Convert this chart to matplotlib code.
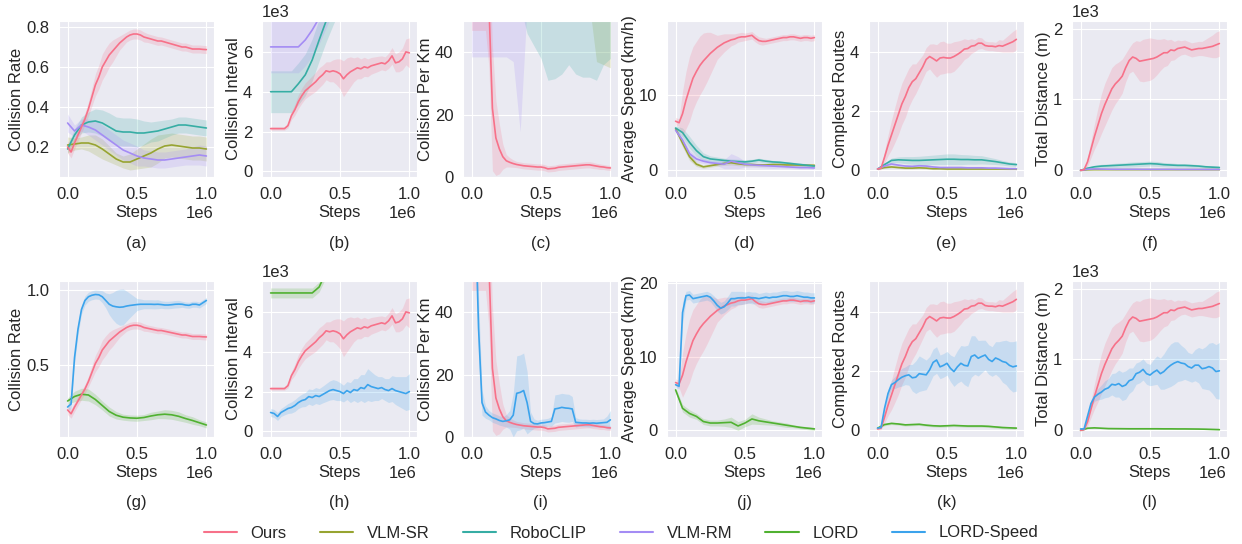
import numpy as np
import matplotlib
matplotlib.use("Agg")
import matplotlib.pyplot as plt
import seaborn as sns

sns.set_style("darkgrid")
plt.rcParams["font.family"] = ["Liberation Sans", "DejaVu Sans"]
plt.rcParams["font.size"] = 12

# evaluation steps: fine grid for noisy curves, coarse grid for smooth ones
STEPS = np.arange(0, 1_000_001, 25_000)
STEPS_C = np.arange(0, 1_000_001, 50_000)

LABELS = ["Ours", "VLM-SR", "RoboCLIP", "VLM-RM", "LORD", "LORD-Speed"]
COLORS = {"Ours": "#f77189", "VLM-SR": "#97a431", "RoboCLIP": "#36ada4",
          "VLM-RM": "#a48cf4", "LORD": "#50b131", "LORD-Speed": "#3ba3ec"}

# ── Collision Rate ─────────────────────────────────────────────────────────
RATE_OURS = [0.20, 0.175, 0.22, 0.26, 0.30, 0.34, 0.39, 0.45, 0.51, 0.55, 0.60,
             0.63, 0.66, 0.68, 0.70, 0.72, 0.735, 0.75, 0.76, 0.765, 0.765,
             0.76, 0.75, 0.745, 0.74, 0.735, 0.73, 0.73, 0.725, 0.72, 0.715,
             0.71, 0.705, 0.70, 0.70, 0.695, 0.69, 0.69, 0.69, 0.688, 0.687]
RATE_OURS_SD = [0.03, 0.03, 0.03, 0.03, 0.03, 0.03, 0.035, 0.045, 0.055, 0.06,
                0.065, 0.065, 0.06, 0.055, 0.045, 0.035, 0.03, 0.025, 0.025,
                0.025, 0.025, 0.025, 0.025, 0.022, 0.022, 0.022, 0.022, 0.02,
                0.02, 0.02, 0.02, 0.02, 0.02, 0.02, 0.02, 0.02, 0.02, 0.02,
                0.02, 0.02, 0.02]
RATE_SR = [0.21, 0.215, 0.22, 0.22, 0.21, 0.19, 0.165, 0.14, 0.125, 0.125,
           0.14, 0.155, 0.17, 0.19, 0.205, 0.21, 0.205, 0.20, 0.195, 0.195, 0.19]
RATE_SR_SD = [0.04, 0.03, 0.03, 0.04, 0.05, 0.05, 0.04, 0.03, 0.03, 0.04, 0.05,
              0.06, 0.07, 0.07, 0.06, 0.06, 0.06, 0.06, 0.06, 0.06, 0.06]
RATE_CLIP = [0.19, 0.26, 0.31, 0.325, 0.33, 0.32, 0.30, 0.28, 0.275, 0.275,
             0.27, 0.27, 0.275, 0.28, 0.29, 0.30, 0.31, 0.31, 0.305, 0.30, 0.295]
RATE_CLIP_SD = [0.02, 0.03, 0.04, 0.05, 0.06, 0.065, 0.07, 0.07, 0.07, 0.07,
                0.07, 0.06, 0.05, 0.05, 0.045, 0.04, 0.04, 0.04, 0.04, 0.04, 0.04]
RATE_RM = [0.32, 0.28, 0.31, 0.30, 0.285, 0.26, 0.235, 0.21, 0.185, 0.17, 0.155,
           0.145, 0.14, 0.135, 0.135, 0.14, 0.145, 0.15, 0.155, 0.16, 0.155]
RATE_RM_SD = [0.045, 0.03, 0.03, 0.04, 0.05, 0.05, 0.05, 0.05, 0.05, 0.05, 0.05,
              0.04, 0.04, 0.04, 0.04, 0.04, 0.04, 0.04, 0.045, 0.05, 0.05]
RATE_LORD = [0.26, 0.29, 0.305, 0.30, 0.27, 0.23, 0.19, 0.165, 0.152, 0.147,
             0.145, 0.15, 0.16, 0.168, 0.172, 0.168, 0.158, 0.143, 0.13, 0.115, 0.10]
RATE_LORD_SD = [0.02, 0.035, 0.04, 0.04, 0.035, 0.03, 0.03, 0.025, 0.02, 0.02,
                0.02, 0.02, 0.025, 0.025, 0.03, 0.03, 0.03, 0.025, 0.025, 0.02, 0.02]
RATE_SPEED = [0.22, 0.24, 0.55, 0.74, 0.87, 0.93, 0.955, 0.965, 0.97, 0.968,
              0.955, 0.93, 0.905, 0.893, 0.888, 0.885, 0.887, 0.893, 0.897, 0.90,
              0.903, 0.905, 0.905, 0.905, 0.905, 0.904, 0.905, 0.903, 0.90, 0.90,
              0.902, 0.905, 0.906, 0.905, 0.90, 0.898, 0.905, 0.905, 0.90, 0.915, 0.93]
RATE_SPEED_SD = [0.02, 0.03, 0.04, 0.04, 0.03, 0.03, 0.03, 0.03, 0.03, 0.03,
                 0.04, 0.05, 0.07, 0.09, 0.11, 0.12, 0.12, 0.10, 0.08, 0.06,
                 0.04, 0.035, 0.03, 0.03, 0.03, 0.03, 0.03, 0.025, 0.025, 0.025,
                 0.025, 0.025, 0.025, 0.02, 0.02, 0.02, 0.02, 0.02, 0.02, 0.02, 0.02]

# ── Collision Interval ─────────────────────────────────────────────────────
INT_OURS = [2150, 2150, 2150, 2150, 2150, 2300, 2800, 3100, 3500, 3800, 4050,
            4200, 4350, 4500, 4700, 4850, 5050, 5000, 5050, 5000, 4900, 4650,
            4850, 5000, 5100, 5200, 5150, 5250, 5200, 5300, 5350, 5400, 5450,
            5400, 5550, 5800, 5450, 5500, 5650, 6000, 5950]
INT_OURS_SD = [80, 80, 80, 80, 80, 120, 200, 280, 350, 380, 400, 420, 450, 480,
               500, 480, 450, 500, 550, 650, 750, 900, 850, 750, 600, 550, 500,
               480, 450, 420, 400, 380, 350, 350, 380, 420, 450, 500, 550, 650, 750]
INT_CLIP = [4000, 4000, 4000, 4000, 4400, 4850, 5600, 6600, 7550, 8400, 9200,
            9900, 10500, 11000, 11500, 11900, 12200, 12500, 12700, 12900, 13000]
INT_CLIP_SD = [1050] * 21
INT_RM = [6250, 6250, 6250, 6250, 6250, 6600, 7100, 7700, 8500, 9300, 10000,
          10600, 11100, 11500, 11900, 12200, 12500, 12700, 12900, 13000, 13100]
INT_RM_SD = [1300] * 21
INT_LORD = [6950, 6950, 6950, 6950, 6950, 6950, 6950, 7250, 8000, 8800, 9500,
            10000, 10500, 10900, 11200, 11500, 11700, 11900, 12000, 12100, 12200]
INT_LORD_SD = [250] * 21
INT_SPEED = [950, 900, 750, 950, 1050, 1150, 1200, 1300, 1450, 1550, 1600, 1750,
             1700, 1800, 1750, 1850, 1950, 2050, 2100, 2050, 2000, 1900, 2050,
             1950, 2100, 2050, 2200, 2150, 2350, 2250, 2200, 2150, 2200, 2100,
             2050, 2150, 2050, 2000, 1950, 1900, 2000]
INT_SPEED_SD = [200, 200, 200, 200, 220, 250, 280, 300, 300, 320, 350, 380, 400,
                400, 400, 420, 450, 480, 500, 500, 450, 420, 450, 500, 550, 600,
                650, 700, 800, 750, 650, 600, 550, 550, 600, 650, 700, 750, 800,
                850, 900]

# ── Collision Per Km ───────────────────────────────────────────────────────
KM_OURS = [75, 75, 74, 73, 70, 55, 22, 12.5, 9, 6.5, 5.2, 4.7, 4.3, 4.0, 3.8,
           3.6, 3.5, 3.4, 3.3, 3.2, 3.2, 3.0, 2.6, 2.7, 2.8, 3.1, 3.2, 3.3, 3.4,
           3.5, 3.6, 3.7, 3.8, 3.9, 3.9, 3.7, 3.5, 3.3, 3.2, 3.0, 2.9]
KM_OURS_SD = [28, 28, 27, 26, 23, 20, 20, 12, 8, 4, 2, 1.5, 1.2, 1.0, 1.0, 1.0,
              1.0, 1.0, 1.0, 1.0, 1.0, 1.0, 1.0, 1.0, 1.0, 1.0, 1.0, 1.0, 1.0,
              1.0, 1.0, 1.0, 1.0, 1.0, 1.0, 1.0, 0.9, 0.9, 0.8, 0.8, 0.8]
KM_SR = [65] * 21
KM_SR_SD = [10, 10, 10, 10, 10, 10, 10, 10, 10, 10, 10, 10, 10, 10, 10, 10, 10,
            10, 28, 29, 30]
KM_CLIP = [65] * 21
KM_CLIP_SD = [10, 10, 10, 10, 10, 10, 10, 10, 19, 23, 27, 34, 33.5, 32, 29, 32,
              33, 33, 34, 29, 27]
KM_RM = [70] * 21
KM_RM_SD = [31.5, 31.5, 31.5, 31.5, 31.5, 31.5, 33, 55.5, 15, 15, 15, 15, 15,
            15, 15, 15, 15, 15, 15, 15, 15]
KM_SPEED = [80, 75, 35, 11, 8, 7, 6.2, 5.8, 5.3, 5.0, 5.2, 5.5, 7, 14, 14.3,
            14.9, 11, 5, 4.3, 4.2, 4.5, 4.6, 4.8, 5.0, 9, 9.2, 9.5, 9.3, 9.2,
            9.0, 4.7, 4.6, 4.5, 4.5, 4.4, 4.5, 4.4, 4.5, 4.6, 4.7, 5.5]
KM_SPEED_SD = [5, 8, 10, 4, 2, 1.5, 1.5, 1.5, 1.5, 1.5, 2, 3, 7, 12, 12, 12, 10,
               3, 1.5, 1.2, 1.2, 1.2, 1.2, 1.5, 4.5, 4.5, 4.5, 4.5, 4.5, 4, 1.5,
               1.2, 1.2, 1.2, 1.2, 1.2, 1.2, 1.2, 1.2, 2, 3]

# ── Average Speed ──────────────────────────────────────────────────────────
SPD_OURS = [6.5, 6.3, 7.5, 9.3, 10.8, 12.2, 13.1, 13.9, 14.5, 15.0, 15.5, 15.9,
            16.3, 16.6, 16.9, 17.1, 17.3, 17.4, 17.6, 17.7, 17.7, 17.8, 17.9,
            17.5, 17.2, 17.1, 17.1, 17.2, 17.3, 17.4, 17.5, 17.6, 17.6, 17.7,
            17.7, 17.6, 17.5, 17.6, 17.6, 17.5, 17.6]
SPD_OURS_SD = [0.5, 0.5, 3, 3.8, 4.3, 4.2, 4, 3.9, 3.7, 3.3, 2.8, 2.2, 1.6, 1.4,
               1.2, 1.0, 0.8, 0.7, 0.6, 0.6, 0.5, 0.5, 0.5, 0.5, 0.5, 0.5, 0.4,
               0.4, 0.4, 0.4, 0.4, 0.4, 0.4, 0.4, 0.4, 0.4, 0.4, 0.4, 0.4, 0.4, 0.4]
SPD_SR = [5.5, 3.6, 1.8, 0.8, 0.45, 0.6, 0.75, 0.9, 1.0, 0.85, 0.75, 0.75, 0.7,
          0.7, 0.75, 0.75, 0.7, 0.7, 0.68, 0.66, 0.65]
SPD_SR_SD = [0.3, 0.5, 0.5, 0.3, 0.2, 0.2, 0.2, 0.25, 0.3, 0.25, 0.2, 0.2, 0.2,
             0.2, 0.2, 0.2, 0.2, 0.2, 0.2, 0.2, 0.2]
SPD_CLIP = [5.6, 5.0, 3.7, 2.6, 1.8, 1.5, 1.4, 1.3, 1.2, 1.15, 1.1, 1.2, 1.35,
            1.2, 1.1, 1.05, 0.95, 0.85, 0.75, 0.65, 0.55]
SPD_CLIP_SD = [0.3, 0.6, 0.8, 0.7, 0.5, 0.4, 0.35, 0.3, 0.3, 0.3, 0.3, 0.25,
               0.25, 0.25, 0.2, 0.2, 0.2, 0.2, 0.2, 0.2, 0.2]
SPD_RM = [5.3, 4.0, 2.2, 1.5, 1.2, 1.0, 0.9, 0.8, 1.2, 1.0, 0.8, 0.7, 0.65, 0.6,
          0.55, 0.5, 0.45, 0.4, 0.35, 0.35, 0.3]
SPD_RM_SD = [0.3, 0.5, 0.5, 0.4, 0.3, 0.3, 0.3, 0.6, 1.0, 0.8, 0.4, 0.3, 0.3,
             0.3, 0.3, 0.2, 0.2, 0.2, 0.2, 0.2, 0.2]
SPD_LORD = [5.5, 3.0, 2.3, 1.9, 1.2, 1.0, 1.0, 1.05, 1.1, 0.6, 1.0, 1.55, 1.3,
            1.15, 1.0, 0.85, 0.7, 0.55, 0.4, 0.3, 0.2]
SPD_LORD_SD = [0.3, 0.5, 0.5, 0.4, 0.4, 0.4, 0.4, 0.5, 0.7, 0.6, 0.5, 0.7, 0.5,
               0.4, 0.3, 0.3, 0.3, 0.2, 0.2, 0.2, 0.2]
SPD_SPEED = [6.2, 6.0, 16.0, 18.3, 18.4, 17.9, 18.0, 18.1, 18.2, 18.3, 18.1,
             17.6, 17.0, 16.6, 16.8, 17.3, 17.9, 17.9, 18.0, 18.0, 18.0, 18.1,
             18.0, 18.0, 17.9, 18.0, 18.1, 18.0, 18.1, 18.1, 18.2, 18.3, 18.3,
             18.2, 18.2, 18.3, 18.2, 18.1, 18.1, 18.0, 18.0]
SPD_SPEED_SD = [0.4, 0.4, 1.5, 0.6, 0.6, 0.6, 0.6, 0.6, 0.6, 0.6, 0.6, 0.7, 0.8,
                0.8, 0.8, 0.9, 1.0, 1.0, 0.9, 0.9, 0.8, 0.8, 0.8, 0.8, 0.7, 0.7,
                0.7, 0.7, 0.7, 0.7, 0.7, 0.7, 0.7, 0.7, 0.7, 0.7, 0.7, 0.7, 0.7,
                0.7, 0.7]

# ── Completed Routes ───────────────────────────────────────────────────────
RT_OURS = [0.05, 0.08, 0.45, 0.85, 1.2, 1.55, 1.9, 2.25, 2.5, 2.8, 3.0, 3.1,
           3.3, 3.5, 3.75, 3.85, 3.78, 3.7, 3.8, 3.82, 3.8, 3.8, 3.85, 3.92,
           4.0, 4.1, 4.12, 4.2, 4.22, 4.3, 4.3, 4.22, 4.2, 4.2, 4.18, 4.22, 4.2,
           4.25, 4.3, 4.35, 4.43]
RT_OURS_SD = [0.03, 0.05, 0.2, 0.35, 0.5, 0.6, 0.68, 0.7, 0.7, 0.65, 0.6, 0.5,
              0.45, 0.4, 0.4, 0.42, 0.5, 0.55, 0.55, 0.55, 0.5, 0.5, 0.5, 0.45,
              0.4, 0.35, 0.3, 0.25, 0.2, 0.2, 0.18, 0.15, 0.15, 0.15, 0.15, 0.2,
              0.2, 0.25, 0.3, 0.35, 0.35]
RT_SR = [0.05, 0.1, 0.12, 0.1, 0.08, 0.08, 0.09, 0.08, 0.06, 0.06, 0.05, 0.05,
         0.05, 0.05, 0.05, 0.05, 0.05, 0.05, 0.05, 0.05, 0.05]
RT_SR_SD = [0.02] + [0.03] * 20
RT_CLIP = [0.05, 0.2, 0.34, 0.36, 0.35, 0.34, 0.34, 0.35, 0.36, 0.37, 0.38,
           0.38, 0.37, 0.37, 0.36, 0.36, 0.33, 0.3, 0.26, 0.22, 0.2]
RT_CLIP_SD = [0.02, 0.05, 0.08, 0.1, 0.12, 0.13, 0.14, 0.15, 0.16, 0.17, 0.18,
              0.18, 0.17, 0.16, 0.15, 0.14, 0.12, 0.1, 0.08, 0.07, 0.06]
RT_RM = [0.05, 0.15, 0.22, 0.18, 0.15, 0.14, 0.16, 0.15, 0.12, 0.1, 0.1, 0.1,
         0.1, 0.09, 0.09, 0.09, 0.08, 0.08, 0.07, 0.06, 0.06]
RT_RM_SD = [0.02] + [0.04] * 20
RT_LORD = [0.08, 0.2, 0.24, 0.22, 0.19, 0.2, 0.21, 0.18, 0.16, 0.15, 0.16, 0.17,
           0.16, 0.15, 0.15, 0.15, 0.14, 0.12, 0.1, 0.09, 0.08]
RT_LORD_SD = [0.02] + [0.04] * 20
RT_SPEED = [0.08, 0.1, 0.75, 1.25, 1.55, 1.62, 1.72, 1.8, 1.85, 1.88, 1.78, 1.8,
            1.92, 1.9, 1.88, 2.05, 2.3, 2.38, 2.15, 2.2, 2.27, 2.1, 1.99, 2.15,
            2.27, 2.2, 2.18, 2.5, 2.55, 2.44, 2.5, 2.55, 2.4, 2.33, 2.45, 2.4,
            2.33, 2.3, 2.2, 2.15, 2.18]
RT_SPEED_SD = [0.02, 0.03, 0.1, 0.15, 0.15, 0.2, 0.25, 0.3, 0.3, 0.35, 0.45,
               0.55, 0.6, 0.55, 0.5, 0.45, 0.45, 0.45, 0.4, 0.4, 0.4, 0.45, 0.5,
               0.55, 0.6, 0.65, 0.7, 0.7, 0.65, 0.6, 0.55, 0.5, 0.5, 0.5, 0.55,
               0.6, 0.7, 0.75, 0.8, 0.85, 0.85]

# ── Total Distance ─────────────────────────────────────────────────────────
DST_OURS = [0, 10, 120, 300, 480, 640, 800, 930, 1040, 1150, 1220, 1270, 1330,
            1450, 1550, 1600, 1580, 1540, 1550, 1560, 1570, 1580, 1600, 1630,
            1660, 1660, 1700, 1690, 1720, 1730, 1740, 1720, 1700, 1710, 1720,
            1720, 1730, 1740, 1750, 1770, 1790]
DST_OURS_SD = [10, 10, 60, 120, 180, 240, 280, 300, 300, 300, 280, 260, 240,
               200, 180, 200, 250, 280, 300, 300, 300, 280, 250, 220, 200, 180,
               150, 130, 120, 100, 100, 100, 100, 100, 100, 100, 120, 140, 160,
               180, 180]
DST_SR = [0, 8, 10, 10, 10, 10, 10, 10, 10, 10, 10, 10, 10, 10, 10, 10, 10, 10,
          10, 10, 10]
DST_SR_SD = [3] * 21
DST_CLIP = [0, 30, 50, 60, 65, 70, 75, 80, 85, 90, 95, 90, 80, 75, 70, 70, 65,
            60, 50, 45, 40]
DST_CLIP_SD = [5, 15, 20, 25, 25, 30, 30, 35, 35, 35, 35, 35, 30, 30, 25, 25,
               25, 20, 20, 20, 20]
DST_RM = [0, 15, 20, 18, 16, 15, 15, 15, 15, 14, 14, 14, 14, 14, 13, 13, 13, 13,
          12, 12, 12]
DST_RM_SD = [4] * 21
DST_LORD = [0, 30, 35, 30, 25, 24, 23, 22, 22, 22, 22, 22, 21, 21, 20, 20, 19,
            18, 16, 13, 10]
DST_LORD_SD = [5] * 21
DST_SPEED = [20, 20, 200, 380, 470, 510, 540, 580, 600, 650, 640, 660, 620, 640,
             700, 720, 800, 820, 860, 800, 780, 820, 850, 800, 830, 880, 920, 950,
             970, 950, 940, 900, 880, 920, 920, 870, 880, 900, 880, 830, 840]
DST_SPEED_SD = [10, 10, 30, 50, 60, 80, 100, 120, 130, 150, 170, 190, 200, 200,
                180, 160, 150, 150, 150, 150, 150, 180, 200, 220, 250, 280, 300,
                300, 280, 250, 220, 200, 200, 220, 250, 280, 300, 330, 360, 380,
                400]

# panel setup: ylabel, ylim, yticks, sci y, [(method, x, mean, sd), ...]
ROW1 = [
    ("Collision Rate", (0.05, 0.83), [0.2, 0.4, 0.6, 0.8], False,
     [("VLM-SR", STEPS_C, RATE_SR, RATE_SR_SD),
      ("RoboCLIP", STEPS_C, RATE_CLIP, RATE_CLIP_SD),
      ("VLM-RM", STEPS_C, RATE_RM, RATE_RM_SD),
      ("Ours", STEPS, RATE_OURS, RATE_OURS_SD)]),
    ("Collision Interval", (-280, 7550), [0, 2000, 4000, 6000], True,
     [("RoboCLIP", STEPS_C, INT_CLIP, INT_CLIP_SD),
      ("VLM-RM", STEPS_C, INT_RM, INT_RM_SD),
      ("Ours", STEPS, INT_OURS, INT_OURS_SD)]),
    ("Collision Per Km", (0, 50), [0, 20, 40], False,
     [("VLM-SR", STEPS_C, KM_SR, KM_SR_SD),
      ("RoboCLIP", STEPS_C, KM_CLIP, KM_CLIP_SD),
      ("VLM-RM", STEPS_C, KM_RM, KM_RM_SD),
      ("Ours", STEPS, KM_OURS, KM_OURS_SD)]),
    ("Average Speed (km/h)", (-0.9, 19.8), [0, 10], False,
     [("VLM-SR", STEPS_C, SPD_SR, SPD_SR_SD),
      ("RoboCLIP", STEPS_C, SPD_CLIP, SPD_CLIP_SD),
      ("VLM-RM", STEPS_C, SPD_RM, SPD_RM_SD),
      ("Ours", STEPS, SPD_OURS, SPD_OURS_SD)]),
    ("Completed Routes", (-0.22, 5.05), [0, 2, 4], False,
     [("VLM-SR", STEPS_C, RT_SR, RT_SR_SD),
      ("RoboCLIP", STEPS_C, RT_CLIP, RT_CLIP_SD),
      ("VLM-RM", STEPS_C, RT_RM, RT_RM_SD),
      ("Ours", STEPS, RT_OURS, RT_OURS_SD)]),
    ("Total Distance (m)", (-94, 2108), [0, 1000, 2000], True,
     [("VLM-SR", STEPS_C, DST_SR, DST_SR_SD),
      ("RoboCLIP", STEPS_C, DST_CLIP, DST_CLIP_SD),
      ("VLM-RM", STEPS_C, DST_RM, DST_RM_SD),
      ("Ours", STEPS, DST_OURS, DST_OURS_SD)]),
]
ROW2 = [
    ("Collision Rate", (0.02, 1.06), [0.5, 1.0], False,
     [("LORD", STEPS_C, RATE_LORD, RATE_LORD_SD),
      ("LORD-Speed", STEPS, RATE_SPEED, RATE_SPEED_SD),
      ("Ours", STEPS, RATE_OURS, RATE_OURS_SD)]),
    ("Collision Interval", (-280, 7550), [0, 2000, 4000, 6000], True,
     [("LORD", STEPS_C, INT_LORD, INT_LORD_SD),
      ("LORD-Speed", STEPS, INT_SPEED, INT_SPEED_SD),
      ("Ours", STEPS, INT_OURS, INT_OURS_SD)]),
    ("Collision Per Km", (0, 50), [0, 20, 40], False,
     [("Ours", STEPS, KM_OURS, KM_OURS_SD),
      ("LORD-Speed", STEPS, KM_SPEED, KM_SPEED_SD)]),
    ("Average Speed (km/h)", (-0.9, 20.3), [0, 10, 20], False,
     [("LORD", STEPS_C, SPD_LORD, SPD_LORD_SD),
      ("Ours", STEPS, SPD_OURS, SPD_OURS_SD),
      ("LORD-Speed", STEPS, SPD_SPEED, SPD_SPEED_SD)]),
    ("Completed Routes", (-0.22, 5.05), [0, 2, 4], False,
     [("LORD", STEPS_C, RT_LORD, RT_LORD_SD),
      ("Ours", STEPS, RT_OURS, RT_OURS_SD),
      ("LORD-Speed", STEPS, RT_SPEED, RT_SPEED_SD)]),
    ("Total Distance (m)", (-94, 2108), [0, 1000, 2000], True,
     [("LORD", STEPS_C, DST_LORD, DST_LORD_SD),
      ("Ours", STEPS, DST_OURS, DST_OURS_SD),
      ("LORD-Speed", STEPS, DST_SPEED, DST_SPEED_SD)]),
]

W, H = 1242, 544
fig = plt.figure(figsize=(W / 100, H / 100), dpi=100)
lefts = [59, 262, 463, 667, 869, 1072]
tops = [21, 281]
aw, ah = 155, 156
captions = "abcdefghijkl"

for r, row in enumerate([ROW1, ROW2]):
    for c, (ylabel, ylim, yticks, sci, series) in enumerate(row):
        ax = fig.add_axes([lefts[c] / W, 1 - (tops[r] + ah) / H, aw / W, ah / H])
        for method, x, mean, sd in series:
            mean = np.asarray(mean, dtype=float)
            sd = np.asarray(sd, dtype=float)
            col = COLORS[method]
            ax.fill_between(x, mean - sd, mean + sd, color=col, alpha=0.2, lw=0)
            ax.plot(x, mean, color=col, lw=1.2)
        ax.set_xlim(-62_000, 1_055_000)
        ax.set_ylim(*ylim)
        ax.set_xticks([0, 500_000, 1_000_000])
        ax.set_yticks(yticks)
        ax.ticklabel_format(axis="x", style="sci", scilimits=(0, 0))
        if sci:
            ax.ticklabel_format(axis="y", style="sci", scilimits=(0, 0))
        ax.set_xlabel("Steps", labelpad=2)
        ax.set_ylabel(ylabel, labelpad=1.5)
        fig.text((lefts[c] + aw / 2) / W, 1 - (243 + 260 * r) / H,
                 f"({captions[r * 6 + c]})", ha="center", va="center", fontsize=12)

handles = [plt.Line2D([], [], color=COLORS[m], lw=1.5) for m in LABELS]
fig.legend(handles, LABELS, loc="center", ncol=6, frameon=False,
           bbox_to_anchor=(0.5, 11 / H), fontsize=12)

fig.savefig("out.png", dpi=100)
